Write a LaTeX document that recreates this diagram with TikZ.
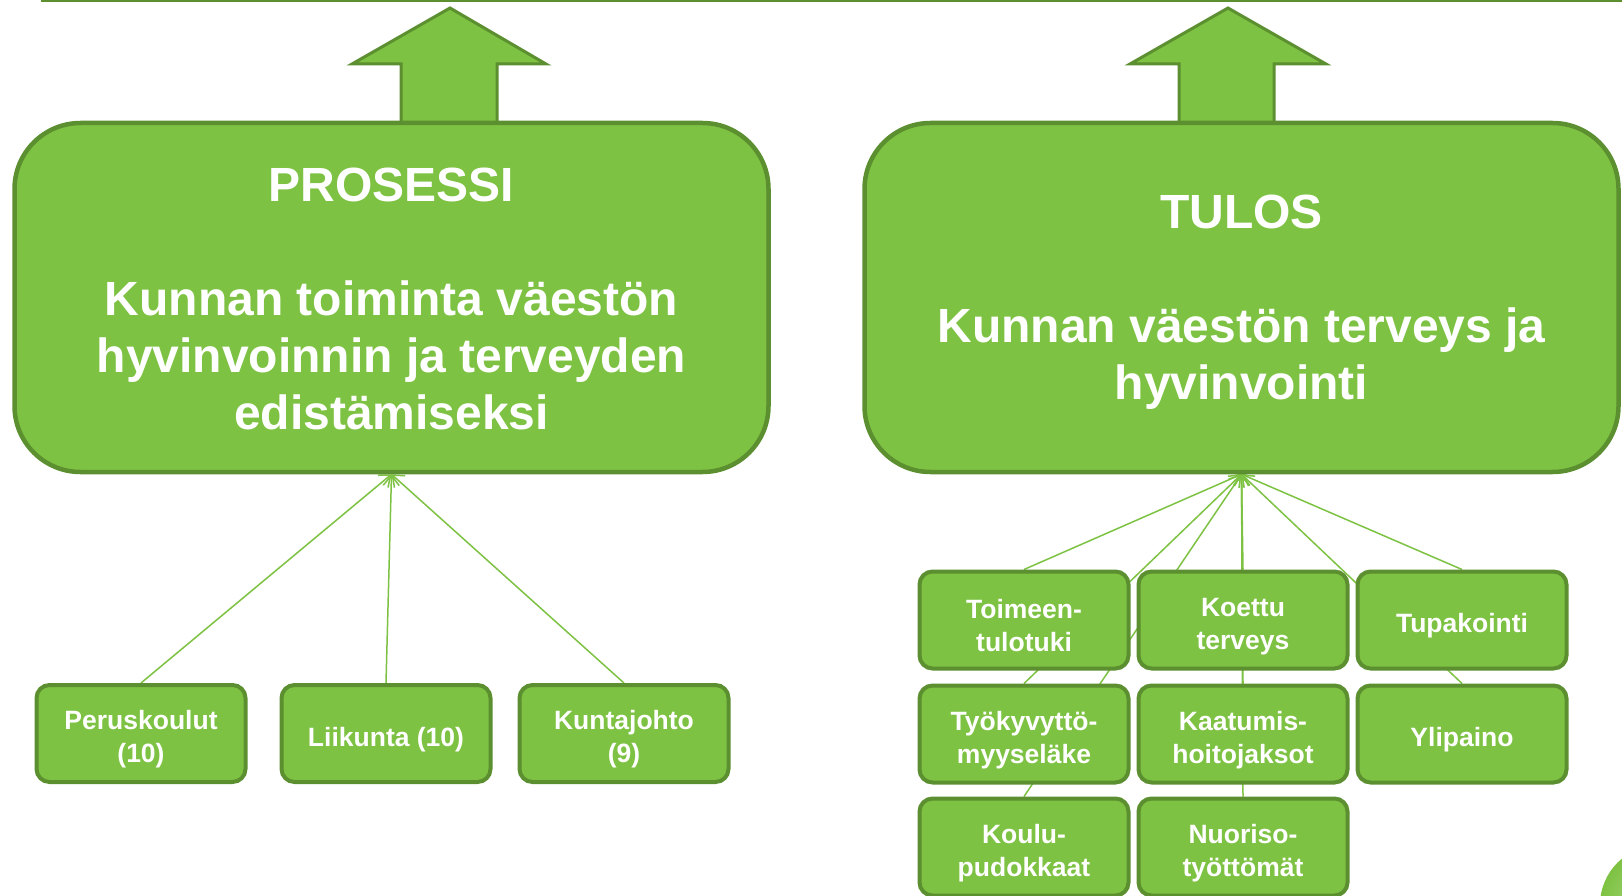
\documentclass[tikz,border=0pt]{standalone}
\usepackage{fontspec}
\setmainfont{Liberation Sans}
\usepackage{tikz}
\usetikzlibrary{arrows.meta,positioning,backgrounds}
\definecolor{boxgreen}{HTML}{7DC242}
\definecolor{edgegreen}{HTML}{5B8F2F}
\definecolor{linegreen}{HTML}{7DC242}
\newcommand{\lift}{\rule{0pt}{31pt}}

\begin{document}
\begin{tikzpicture}[x=1pt,y=-1pt]
\tikzset{bigbox/.style={draw=edgegreen,fill=boxgreen,line width=4.5pt,rounded corners=66pt,minimum width=754pt,minimum height=349pt,align=center,text=white,font=\bfseries\fontsize{48}{57}\selectfont}}
\tikzset{leaf/.style={draw=edgegreen,fill=boxgreen,line width=4pt,rounded corners=13pt,minimum width=209pt,minimum height=97pt,align=center,text=white,font=\bfseries\fontsize{26.5}{33}\selectfont}}
\tikzset{feed/.style={draw=linegreen,line width=1.5pt,-{Straight Barb[length=10pt,width=16pt]}}}
\tikzset{bigarrow/.style={draw=edgegreen,fill=boxgreen,line width=3pt,line join=miter}}
\useasboundingbox (0,0) rectangle (1622,896);
\clip (0,0) rectangle (1622,896);
\draw[edgegreen,line width=3pt] (41,1) -- (1622,1);
\draw[bigarrow] (401,135) -- (401,64) -- (352,64) -- (450,8) -- (546,64) -- (497,64) -- (497,135) -- cycle;
\draw[bigarrow] (1179,135) -- (1179,64) -- (1130,64) -- (1228,8) -- (1326,64) -- (1274,64) -- (1274,135) -- cycle;
\node[bigbox] (prosessi) at (391.5,297.5) {\rule{0pt}{36pt}PROSESSI\\[57pt]Kunnan toiminta väestön\\hyvinvoinnin ja terveyden\\edistämiseksi};
\node[bigbox] (tulos) at (1241.5,297.5) {\rule{0pt}{43pt}TULOS\\[57pt]Kunnan väestön terveys ja\\hyvinvointi};
\node[leaf] (perus) at (141,733.5) {\lift Peruskoulut\\(10)};
\node[leaf] (liikunta) at (386,733.5) {\lift Liikunta (10)};
\node[leaf] (kunta) at (624,733.5) {\lift Kuntajohto\\(9)};
\node[leaf] (toimeen) at (1024,620) {\lift Toimeen-\\tulotuki};
\node[leaf,right=6pt of toimeen] (koettu) {\lift Koettu\\terveys};
\node[leaf,right=6pt of koettu] (tupakointi) {\lift Tupakointi};
\node[leaf,below=13pt of toimeen] (tyokyky) {\lift Työkyvyttö-\\myyseläke};
\node[leaf,below=13pt of koettu] (kaatumis) {\lift Kaatumis-\\hoitojaksot};
\node[leaf,below=13pt of tupakointi] (ylipaino) {\lift Ylipaino};
\node[leaf,below=12pt of tyokyky] (koulu) {\lift Koulu-\\pudokkaat};
\node[leaf,below=12pt of kaatumis] (nuoriso) {\lift Nuoriso-\\työttömät};
\shade[inner color=boxgreen!60!white,outer color=boxgreen] (1660,905) circle (60pt);
\begin{scope}[on background layer]
\foreach \n in {perus,liikunta,kunta}
  \draw[feed] (\n.north) -- (prosessi.south);
\foreach \n in {toimeen,tyokyky,koulu,koettu,kaatumis,nuoriso,tupakointi,ylipaino}
  \draw[feed] (\n.north) -- (tulos.south);
\end{scope}
\end{tikzpicture}
\end{document}
